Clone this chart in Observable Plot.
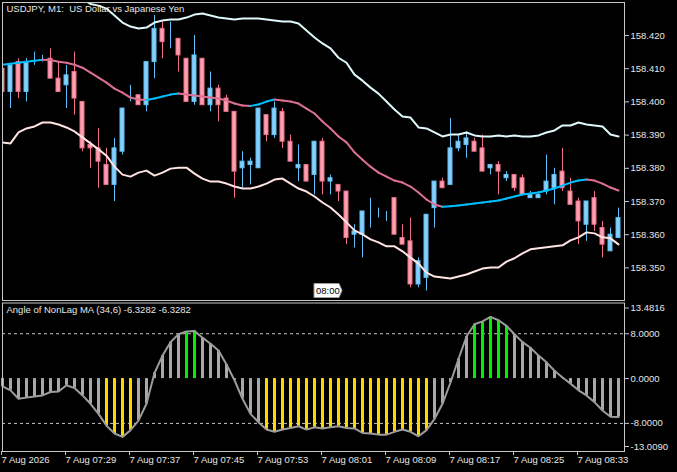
<!DOCTYPE html>
<html><head><meta charset="utf-8">
<script src="https://cdn.jsdelivr.net/npm/d3@7"></script>
<script src="https://cdn.jsdelivr.net/npm/@observablehq/plot@0.6"></script>
<style>
html,body{margin:0;padding:0;background:#000;}
#wrap{position:relative;width:677px;height:472px;background:#000;overflow:hidden;}
#main,#sub{position:absolute;left:0;}
#main{top:0;z-index:2;} #sub{top:300px;z-index:1;}
svg{display:block;}
</style></head><body><div id="wrap"><div id="sub"></div><div id="main"></div></div>
<script>
// ---- data (USDJPY M1, 07:21 .. 08:38) ----
const openP = [158.410,158.403,158.412,158.403,158.412,158.412,158.413,158.407,158.405,158.409,
158.400,158.387,158.386,158.381,158.375,158.385,158.402,158.402,158.399,158.412,
158.422,158.419,158.419,158.413,158.400,158.413,158.399,158.404,158.401,158.397,
158.380,158.381,158.380,158.396,158.390,158.397,158.388,158.380,158.381,158.378,
158.388,158.376,158.375,158.373,158.360,158.360,158.366,158.366,158.366,158.371,
158.359,158.358,158.345,158.347,158.368,158.376,158.375,158.386,158.387,158.388,
158.386,158.380,158.381,158.377,158.378,158.377,158.371,158.371,158.373,158.374,
158.379,158.373,158.370,158.363,158.371,158.362,158.355,158.359];
const highP = [158.410,158.411,158.413,158.413,158.415,158.414,158.416,158.412,158.411,158.415,
158.400,158.388,158.392,158.386,158.389,158.398,158.405,158.402,158.412,158.426,
158.424,158.424,158.419,158.413,158.420,158.413,158.409,158.405,158.402,158.397,
158.385,158.383,158.398,158.396,158.400,158.398,158.390,158.387,158.381,158.388,
158.389,158.378,158.375,158.373,158.363,158.367,158.371,158.368,158.367,158.371,
158.363,158.365,158.353,158.366,158.376,158.377,158.395,158.390,158.391,158.389,
158.390,158.381,158.382,158.379,158.378,158.378,158.373,158.373,158.384,158.380,
158.386,158.377,158.371,158.370,158.373,158.364,158.362,158.368];
const lowP = [158.402,158.398,158.401,158.400,158.411,158.412,158.407,158.403,158.398,158.396,
158.385,158.380,158.374,158.375,158.370,158.384,158.400,158.399,158.397,158.407,
158.413,158.416,158.409,158.400,158.399,158.399,158.397,158.394,158.397,158.371,
158.374,158.375,158.380,158.388,158.389,158.386,158.382,158.376,158.376,158.372,
158.372,158.372,158.370,158.357,158.356,158.353,158.362,158.365,158.364,158.360,
158.357,158.344,158.344,158.343,158.362,158.374,158.375,158.385,158.383,158.385,
158.379,158.378,158.372,158.376,158.373,158.372,158.371,158.371,158.372,158.369,
158.373,158.369,158.357,158.358,158.361,158.353,158.355,158.359];
const closeP = [158.403,158.411,158.403,158.412,158.412,158.412,158.407,158.403,158.408,158.401,
158.386,158.386,158.382,158.375,158.386,158.398,158.402,158.399,158.412,158.422,
158.418,158.419,158.414,158.400,158.414,158.399,158.404,158.399,158.397,158.379,
158.382,158.382,158.398,158.390,158.398,158.388,158.382,158.381,158.376,158.388,
158.376,158.377,158.373,158.359,158.361,158.367,158.366,158.366,158.366,158.360,
158.357,158.345,158.352,158.366,158.376,158.374,158.386,158.388,158.389,158.385,
158.379,158.381,158.379,158.378,158.374,158.372,158.372,158.372,158.376,158.378,
158.374,158.369,158.364,158.370,158.363,158.357,158.360,158.365];
const upperBand = [null,null,null,null,null,null,null,null,null,null,
158.4310,158.4295,158.4290,158.4281,158.4260,158.4239,158.4227,158.4221,158.4224,158.4239,
158.4245,158.4248,158.4248,158.4254,158.4263,158.4266,158.4260,158.4254,158.4251,158.4248,
158.4251,158.4251,158.4251,158.4248,158.4245,158.4242,158.4242,158.4236,158.4215,158.4194,
158.4176,158.4161,158.4133,158.4118,158.4082,158.4064,158.4043,158.4025,158.4001,158.3977,
158.3956,158.3953,158.3923,158.3920,158.3908,158.3896,158.3902,158.3902,158.3908,158.3899,
158.3896,158.3896,158.3899,158.3896,158.3899,158.3896,158.3896,158.3899,158.3908,158.3914,
158.3929,158.3929,158.3938,158.3932,158.3929,158.3926,158.3902,158.3896];
const lowerBand = [158.3878,158.3875,158.3908,158.3920,158.3926,158.3938,158.3938,158.3932,158.3923,158.3911,
158.3893,158.3875,158.3857,158.3838,158.3805,158.3781,158.3775,158.3787,158.3793,158.3778,
158.3787,158.3799,158.3802,158.3802,158.3784,158.3769,158.3760,158.3760,158.3754,158.3745,
158.3739,158.3739,158.3745,158.3754,158.3766,158.3769,158.3754,158.3739,158.3730,158.3715,
158.3697,158.3682,158.3661,158.3637,158.3613,158.3601,158.3586,158.3577,158.3565,158.3565,
158.3550,158.3531,158.3513,158.3486,158.3474,158.3471,158.3468,158.3474,158.3480,158.3489,
158.3498,158.3501,158.3501,158.3519,158.3529,158.3544,158.3556,158.3559,158.3562,158.3565,
158.3568,158.3583,158.3592,158.3607,158.3604,158.3592,158.3589,158.3571];
const nonLagMA = [158.4112,158.4115,158.4118,158.4121,158.4124,158.4127,158.4126,158.4121,158.4118,158.4112,
158.4103,158.4088,158.4073,158.4058,158.4040,158.4028,158.4013,158.4007,158.4006,158.4010,
158.4016,158.4022,158.4025,158.4022,158.4019,158.4016,158.4013,158.4010,158.4004,158.3995,
158.3989,158.3988,158.3992,158.4001,158.4007,158.4004,158.4001,158.3995,158.3980,158.3965,
158.3941,158.3920,158.3896,158.3878,158.3848,158.3826,158.3805,158.3787,158.3775,158.3763,
158.3757,158.3745,158.3727,158.3706,158.3691,158.3684,158.3686,158.3688,158.3691,158.3694,
158.3697,158.3700,158.3703,158.3709,158.3715,158.3721,158.3724,158.3727,158.3733,158.3739,
158.3748,158.3757,158.3763,158.3766,158.3763,158.3754,158.3742,158.3733];
const angleNL = [-1.4,-2.1,-3.6,-3.4,-3.2,-3.0,-2.4,-2.3,-1.2,-1.7,
-3.0,-4.5,-6.3,-8.4,-9.8,-10.4,-9.2,-7.5,-4.5,1.0,
4.1,6.5,7.9,8.4,8.5,7.3,6.2,5.0,2.5,-0.3,
-3.6,-6.3,-7.8,-9.1,-9.5,-9.1,-8.8,-8.5,-9.1,-8.7,
-8.9,-8.7,-8.5,-8.8,-8.9,-9.7,-9.8,-10.0,-10.0,-9.5,
-9.1,-9.5,-10.3,-9.2,-7.2,-4.5,-0.7,3.5,7.5,9.7,
10.2,11.0,10.4,9.4,7.9,6.5,5.5,4.1,2.9,1.4,
0.2,-0.9,-2.1,-3.0,-4.2,-5.7,-6.8,-6.85];
const priceTicks = [158.35,158.36,158.37,158.38,158.39,158.40,158.41,158.42];
const angleTicks = [8,0,-8];
const angleMax = 13.4816, angleMin = -13.009;
const angleLevels = [8,-8];
const timeTickIdx = [0,8,16,24,32,40,48,56,64,72];
const timeTickLabels = ["7 Aug 2026","7 Aug 07:29","7 Aug 07:37","7 Aug 07:45","7 Aug 07:53","7 Aug 08:01","7 Aug 08:09","7 Aug 08:17","7 Aug 08:25","7 Aug 08:33"];
const markerIdx = 39, markerLabel = "08:00";
const chartTitle = "USDJPY, M1:\u00a0 US Dollar vs Japanese Yen";
const indTitle = "Angle of NonLag MA (34,6) -6.3282 -6.3282";

// ---- styling ----
const FG = "#e6e6e6", FRAME = "#c8c8c8", FONT = "'Liberation Sans', Arial, sans-serif";
const BULL_F = "#87cefa", BULL_S = "#5ec0f6", BEAR_F = "#ffa0b1", BEAR_S = "#f0708a";
const MA_UP = "#00bfff", MA_DN = "#db7093";
const xDomain = [0, 77.75];

const bars = openP.map((o, i) => ({i, o, h: highP[i], l: lowP[i], c: closeP[i], up: closeP[i] >= o}));
const up = upperBand.map((v, i) => ({i, v}));
const lo = lowerBand.map((v, i) => ({i, v}));
const maSeg = d3.range(1, nonLagMA.length).map(i => ({x1: i - 1, x2: i, y1: nonLagMA[i - 1], y2: nonLagMA[i], rising: nonLagMA[i] > nonLagMA[i - 1]}));
const ang = angleNL.map((v, i) => ({i, v}));
const tickLab = new Map(timeTickIdx.map((t, k) => [t, timeTickLabels[k]]));

const main = Plot.plot({
  width: 677, height: 302, marginLeft: 2, marginRight: 53, marginTop: 2, marginBottom: 2,
  style: {background: "transparent", color: FG, fontFamily: FONT, fontSize: "9.5px"},
  x: {domain: xDomain, axis: null},
  y: {domain: [158.34018, 158.42994], axis: null},
  color: {type: "identity"},
  marks: [
    Plot.ruleX(bars, {x: "i", y1: "l", y2: "h", stroke: d => d.up ? BULL_S : BEAR_S, strokeWidth: 1, clip: true}),
    Plot.rect(bars, {x1: d => d.i - 0.25, x2: d => d.i + 0.25, y1: "o", y2: "c", fill: d => d.up ? BULL_F : BEAR_F, stroke: d => d.up ? BULL_S : BEAR_S, strokeWidth: 1, clip: true}),
    Plot.line(up, {x: "i", y: "v", stroke: "#dff8fb", strokeWidth: 2, clip: true}),
    Plot.line(lo, {x: "i", y: "v", stroke: "#ffe4e1", strokeWidth: 2, clip: true}),
    Plot.link(maSeg, {x1: "x1", y1: "y1", x2: "x2", y2: "y2", stroke: d => d.rising ? MA_UP : MA_DN, strokeWidth: 2, strokeLinecap: "round", clip: true}),
    Plot.frame({stroke: FRAME}),
    Plot.axisY({anchor: "right", ticks: priceTicks, tickFormat: d => d.toFixed(3), tickSize: 4, tickPadding: 2, stroke: FRAME, fill: FG, label: null}),
    Plot.text([chartTitle], {frameAnchor: "top-left", dx: 4, dy: 3, textAnchor: "start", lineAnchor: "top", fill: FG, fontSize: 9.5})
  ]
});
document.getElementById("main").appendChild(main);

// time marker label box at the 08:00 bar
{
  const sx = main.scale("x").apply(markerIdx);
  const g = d3.select(main).append("g");
  const y0 = 283.5, y1 = 297.5, w = 25;
  g.append("path").attr("d", `M${sx},${y0}H${sx + w}L${sx + w + 3},${(y0 + y1) / 2}L${sx + w},${y1}H${sx}Z`)
    .attr("fill", "#ffffff").attr("stroke", "#9a9a9a");
  g.append("text").attr("x", sx + 2).attr("y", (y0 + y1) / 2).attr("dy", "0.35em")
    .attr("text-anchor", "start")
    .attr("fill", "#000").attr("font-size", "9.5px").attr("font-family", FONT).text(markerLabel);
}

const sub = Plot.plot({
  width: 677, height: 172, marginLeft: 2, marginRight: 53, marginTop: 2.5, marginBottom: 21,
  style: {background: "transparent", color: FG, fontFamily: FONT, fontSize: "9.5px"},
  x: {domain: xDomain, axis: null},
  y: {domain: [angleMin, angleMax], axis: null},
  color: {type: "identity"},
  marks: [
    Plot.ruleY(angleLevels, {stroke: "#c4c4c4", strokeDasharray: "3,3"}),
    Plot.ruleX(ang, {x: "i", y1: 0, y2: "v", stroke: d => d.v > 8 ? "#00f000" : d.v < -8 ? "#ffd700" : "#a9a9a9", strokeWidth: 3}),
    Plot.line(ang, {x: "i", y: "v", stroke: "#9c9c9c", strokeWidth: 2}),
    Plot.frame({stroke: FRAME}),
    Plot.axisY({anchor: "right", ticks: angleTicks, tickFormat: d => d.toFixed(4), tickSize: 4, tickPadding: 2, stroke: FRAME, fill: FG, label: null}),
    Plot.axisY({anchor: "right", ticks: [angleMax], tickFormat: d => d.toFixed(4), tickSize: 4, tickPadding: 2, dy: 5, stroke: FRAME, fill: FG, label: null}),
    Plot.axisY({anchor: "right", ticks: [angleMin], tickFormat: d => d.toFixed(4), tickSize: 4, tickPadding: 2, dy: -5, stroke: FRAME, fill: FG, label: null}),
    Plot.axisX({anchor: "bottom", ticks: timeTickIdx, tickFormat: d => tickLab.get(d), tickSize: 4, tickPadding: 1, textAnchor: "start", dx: -1, stroke: FRAME, fill: FG, label: null}),
    Plot.text([indTitle], {frameAnchor: "top-left", dx: 4, dy: 3, textAnchor: "start", lineAnchor: "top", fill: FG, fontSize: 9.5})
  ]
});
document.getElementById("sub").appendChild(sub);
</script></body></html>
